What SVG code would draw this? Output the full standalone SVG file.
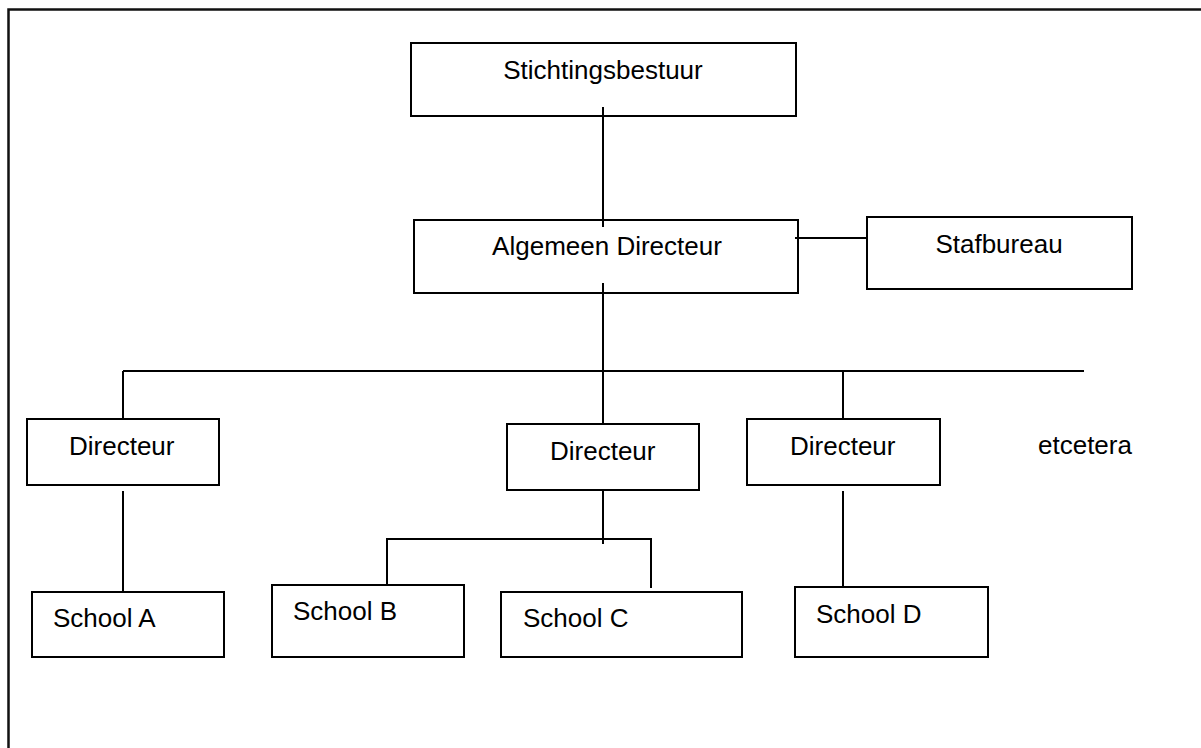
<svg xmlns="http://www.w3.org/2000/svg" width="1201" height="748" viewBox="0 0 1201 748">
<style>
.box{fill:#fff;stroke:#000;stroke-width:2}
.ln{fill:none;stroke:#000;stroke-width:2}
text{font-family:"Liberation Sans",Arial,sans-serif;font-size:26px;fill:#000}
</style>
<rect width="1201" height="748" fill="#fff"/>
<path d="M8.5,748 V9.5 H1201" fill="none" stroke="#111" stroke-width="2.5"/>
<g id="stichtingsbestuur"><rect class="box" x="411" y="43" width="385" height="73"/><text x="603" y="79" text-anchor="middle">Stichtingsbestuur</text></g>
<g id="algemeen-directeur"><rect class="box" x="414" y="220" width="384" height="73"/><text x="607" y="255" text-anchor="middle">Algemeen Directeur</text></g>
<g id="stafbureau"><rect class="box" x="867" y="217" width="265" height="72"/><text x="999" y="253" text-anchor="middle">Stafbureau</text></g>
<g id="directeur-1"><rect class="box" x="27" y="419" width="192" height="66"/><text x="69" y="455">Directeur</text></g>
<g id="directeur-2"><rect class="box" x="507" y="424" width="192" height="66"/><text x="550" y="460">Directeur</text></g>
<g id="directeur-3"><rect class="box" x="747" y="419" width="193" height="66"/><text x="790" y="455">Directeur</text></g>
<g id="etcetera"><text x="1038" y="454">etcetera</text></g>
<g id="school-a"><rect class="box" x="32" y="592" width="192" height="65"/><text x="53" y="627">School A</text></g>
<g id="school-b"><rect class="box" x="272" y="585" width="192" height="72"/><text x="293" y="620">School B</text></g>
<g id="school-c"><rect class="box" x="501" y="592" width="241" height="65"/><text x="523" y="627">School C</text></g>
<g id="school-d"><rect class="box" x="795" y="587" width="193" height="70"/><text x="816" y="623">School D</text></g>
<g id="connectors">
<line class="ln" x1="603" y1="107" x2="603" y2="227"/>
<line class="ln" x1="795" y1="238" x2="867" y2="238"/>
<line class="ln" x1="603" y1="283" x2="603" y2="424"/>
<line class="ln" x1="123" y1="371" x2="1084" y2="371"/>
<line class="ln" x1="123" y1="371" x2="123" y2="419"/>
<line class="ln" x1="843" y1="371" x2="843" y2="419"/>
<line class="ln" x1="123" y1="491" x2="123" y2="592"/>
<line class="ln" x1="603" y1="490" x2="603" y2="544"/>
<polyline class="ln" points="387,585 387,539 651,539 651,588"/>
<line class="ln" x1="843" y1="491" x2="843" y2="587"/>
</g>
</svg>
